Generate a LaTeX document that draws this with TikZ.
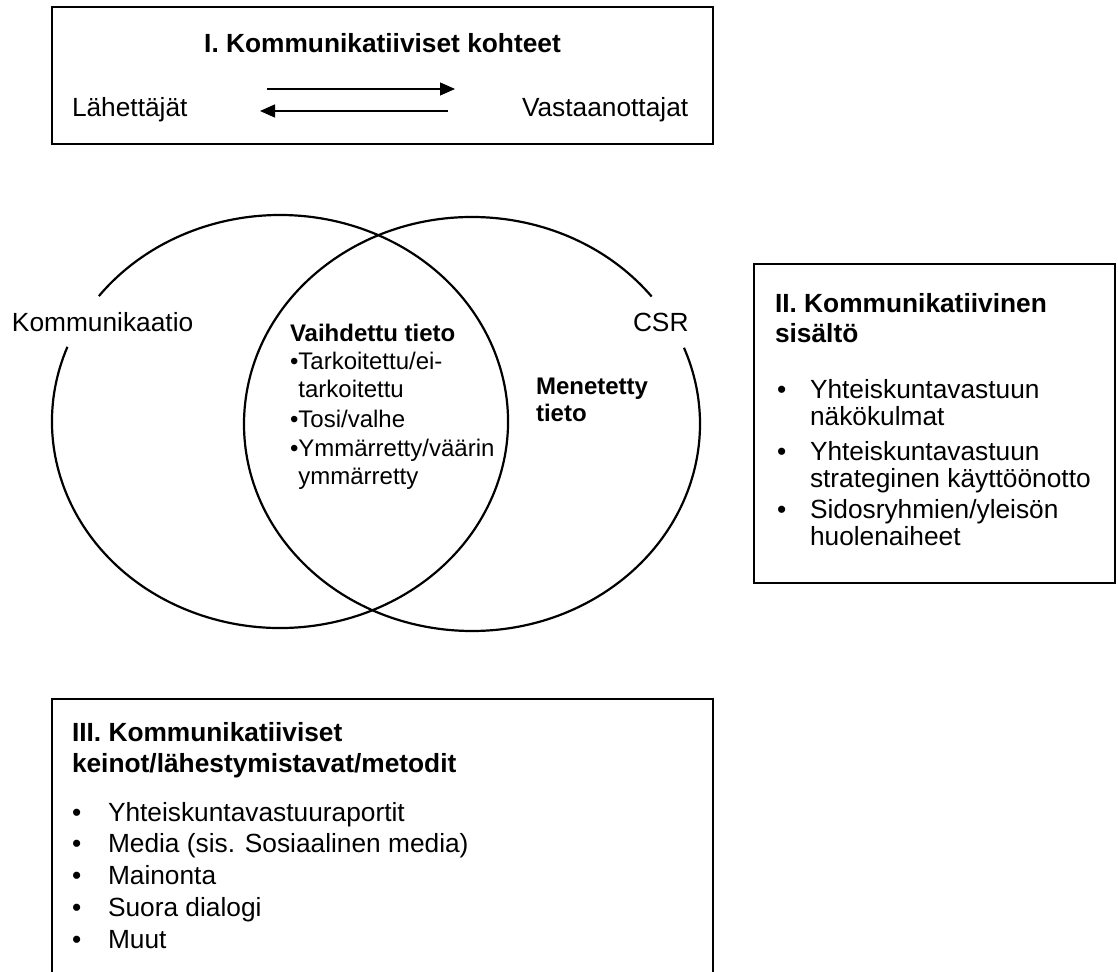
\documentclass[tikz,border=0pt]{standalone}
\usepackage{fontspec}
\setmainfont{Liberation Sans}
\usetikzlibrary{arrows.meta}
\begin{document}
\begin{tikzpicture}[x=1pt,y=1pt,
  frame/.style={draw=black, line width=2.8pt, inner sep=0pt, outer sep=0pt, anchor=north west},
  venn/.style={draw=black, line width=2.2pt},
  txt/.style={inner sep=0pt, outer sep=0pt, anchor=base west, font=\fontsize{26.3}{31}\selectfont},
  ttl/.style={txt, font=\fontsize{26.3}{31}\selectfont\bfseries},
  small/.style={inner sep=0pt, outer sep=0pt, anchor=base west, font=\fontsize{24}{28}\selectfont},
  smallb/.style={small, font=\fontsize{24}{28}\selectfont\bfseries},
  flow/.style={line width=1.3pt, -{Triangle[length=15pt,width=13pt]}},
]
\useasboundingbox (0,0) rectangle (1118,971);
\clip (0,0) rectangle (1118,971);
\fill[white] (0,0) rectangle (1118,971);

% ---------- Box I ----------
\node[frame, minimum width=661pt, minimum height=137pt] (boxI) at (52,964) {};
\node[ttl, anchor=base] (t1) at (382.5,918) {I. Kommunikatiiviset kohteet};
\node[txt] (send) at (72,854) {Lähettäjät};
\node[txt] (recv) at (522,854) {Vastaanottajat};
\coordinate (a1s) at (267,882);
\coordinate (a1e) at (455,882);
\coordinate (a2s) at (448,860);
\coordinate (a2e) at (260,860);
\draw[flow] (a1s) -- (a1e);
\draw[flow] (a2s) -- (a2e);

% ---------- Venn ----------
\coordinate (lc) at (280,549.5);
\coordinate (rc) at (472,547);
\draw[venn] (lc) ++(158.8:228pt and 206.5pt)
  arc[start angle=158.8, end angle=502.6, x radius=228pt, y radius=206.5pt];
\draw[venn] (rc) ++(38:228pt and 207pt)
  arc[start angle=38, end angle=381.6, x radius=228pt, y radius=207pt];

\node[txt] (komm) at (12,639) {Kommunikaatio};
\node[txt] (csr) at (633,639) {CSR};
\node[smallb] (vt) at (290,629) {Vaihdettu tieto};
\node[small] (v1) at (290,601) {•Tarkoitettu/ei-};
\node[small] (v1b) at (298.4,573) {tarkoitettu};
\node[small] (v2) at (290,543) {•Tosi/valhe};
\node[small] (v3) at (290,514) {•Ymmärretty/väärin};
\node[small] (v3b) at (298.4,486) {ymmärretty};
\node[smallb] (mt1) at (536,576) {Menetetty};
\node[smallb] (mt2) at (536,549) {tieto};

% ---------- Box II ----------
\node[frame, minimum width=361pt, minimum height=319pt] (boxII) at (754,707) {};
\node[ttl] (t2a) at (775,658) {II. Kommunikatiivinen};
\node[ttl] (t2b) at (775,628) {sisältö};
\node[txt] (b21) at (777,572) {•};
\node[txt] (i21a) at (810,572) {Yhteiskuntavastuun};
\node[txt] (i21b) at (810,545) {näkökulmat};
\node[txt] (b22) at (777,510) {•};
\node[txt] (i22a) at (810,510) {Yhteiskuntavastuun};
\node[txt] (i22b) at (810,483) {strateginen käyttöönotto};
\node[txt] (b23) at (777,452) {•};
\node[txt] (i23a) at (810,452) {Sidosryhmien/yleisön};
\node[txt] (i23b) at (810,425) {huolenaiheet};

% ---------- Box III ----------
\node[frame, minimum width=661pt, minimum height=300pt] (boxIII) at (52,272) {};
\node[ttl] (t3a) at (72,229) {III. Kommunikatiiviset};
\node[ttl] (t3b) at (72,198) {keinot/lähestymistavat/metodit};
\node[txt] (b31) at (72,149) {•};
\node[txt] (i31) at (108,149) {Yhteiskuntavastuuraportit};
\node[txt] (b32) at (72,118) {•};
\node[txt] (i32) at (108,118) {Media (sis. Sosiaalinen media)};
\node[txt] (b33) at (72,86) {•};
\node[txt] (i33) at (108,86) {Mainonta};
\node[txt] (b34) at (72,54) {•};
\node[txt] (i34) at (108,54) {Suora dialogi};
\node[txt] (b35) at (72,23) {•};
\node[txt] (i35) at (108,23) {Muut};
\end{tikzpicture}
\end{document}
